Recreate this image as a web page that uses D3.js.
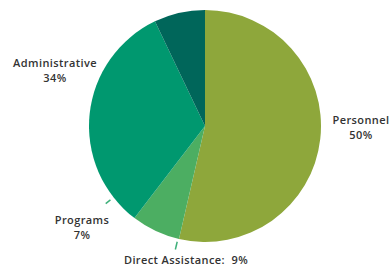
<!DOCTYPE html>
<html lang="en">
<head>
    <meta charset="UTF-8">
    <title>Budget pie</title>
    <script src="https://d3js.org/d3.v7.min.js"></script>
    <style>
        body { margin: 0; background: #fff; }
        text { font-family: "Open Sans", sans-serif; font-weight: 600; fill: #333; letter-spacing: 0.4px; white-space: pre; }
    </style>
</head>
<body>
    <svg class="pie" width="391" height="268"></svg>

    <script>
    // slices in drawing order, clockwise from 12 o'clock
    const categories = ['Personnel', 'Direct Assistance', 'Administrative', 'Other']
    const shares = [53.6, 6.8, 32.5, 7.1]   // share of the circle as drawn
    const colors = ['#8ea73b', '#4cae62', '#00986f', '#00665a']

    // the labels as printed on the chart
    const labelLines = [
        ['Personnel', '50%'],
        ['Direct Assistance:\u00a0 9%'],
        ['Administrative', '34%'],
        ['Programs', '7%']
    ]
    const labelPos = [[361, 124], [186, 264], [55, 67], [82, 224]]

    const cx = 205, cy = 126, r = 116

    const svg = d3.select('.pie')
    const g = svg.append('g').attr('transform', `translate(${cx},${cy})`)

    const pie = d3.pie().sort(null).value(d => d)
    const arc = d3.arc().innerRadius(0).outerRadius(r)

    g.selectAll('path')
        .data(pie(shares))
        .join('path')
        .attr('d', arc)
        .attr('fill', (d, i) => colors[i])

    // short leader ticks
    const ticks = [
        { a: 193.5, r0: r + 3, r1: r + 11 },   // Direct Assistance
        { a: 232, r0: r + 4, r1: r + 10 }      // Programs
    ]
    g.selectAll('line.tick')
        .data(ticks)
        .join('line')
        .attr('class', 'tick')
        .attr('x1', d => d.r0 * Math.sin(d.a * Math.PI / 180))
        .attr('y1', d => -d.r0 * Math.cos(d.a * Math.PI / 180))
        .attr('x2', d => d.r1 * Math.sin(d.a * Math.PI / 180))
        .attr('y2', d => -d.r1 * Math.cos(d.a * Math.PI / 180))
        .attr('stroke', '#3fb07a')
        .attr('stroke-width', 1.5)

    const lab = svg.selectAll('text.lab')
        .data(labelLines)
        .join('text')
        .attr('class', 'lab')
        .attr('text-anchor', 'middle')
        .attr('font-size', 11)
        .attr('x', (d, i) => labelPos[i][0])
        .attr('y', (d, i) => labelPos[i][1])

    lab.selectAll('tspan')
        .data(d => d)
        .join('tspan')
        .attr('x', function () { return this.parentNode.getAttribute('x') })
        .attr('dy', (d, i) => i === 0 ? 0 : 15)
        .text(d => d)
    </script>
</body>
</html>
